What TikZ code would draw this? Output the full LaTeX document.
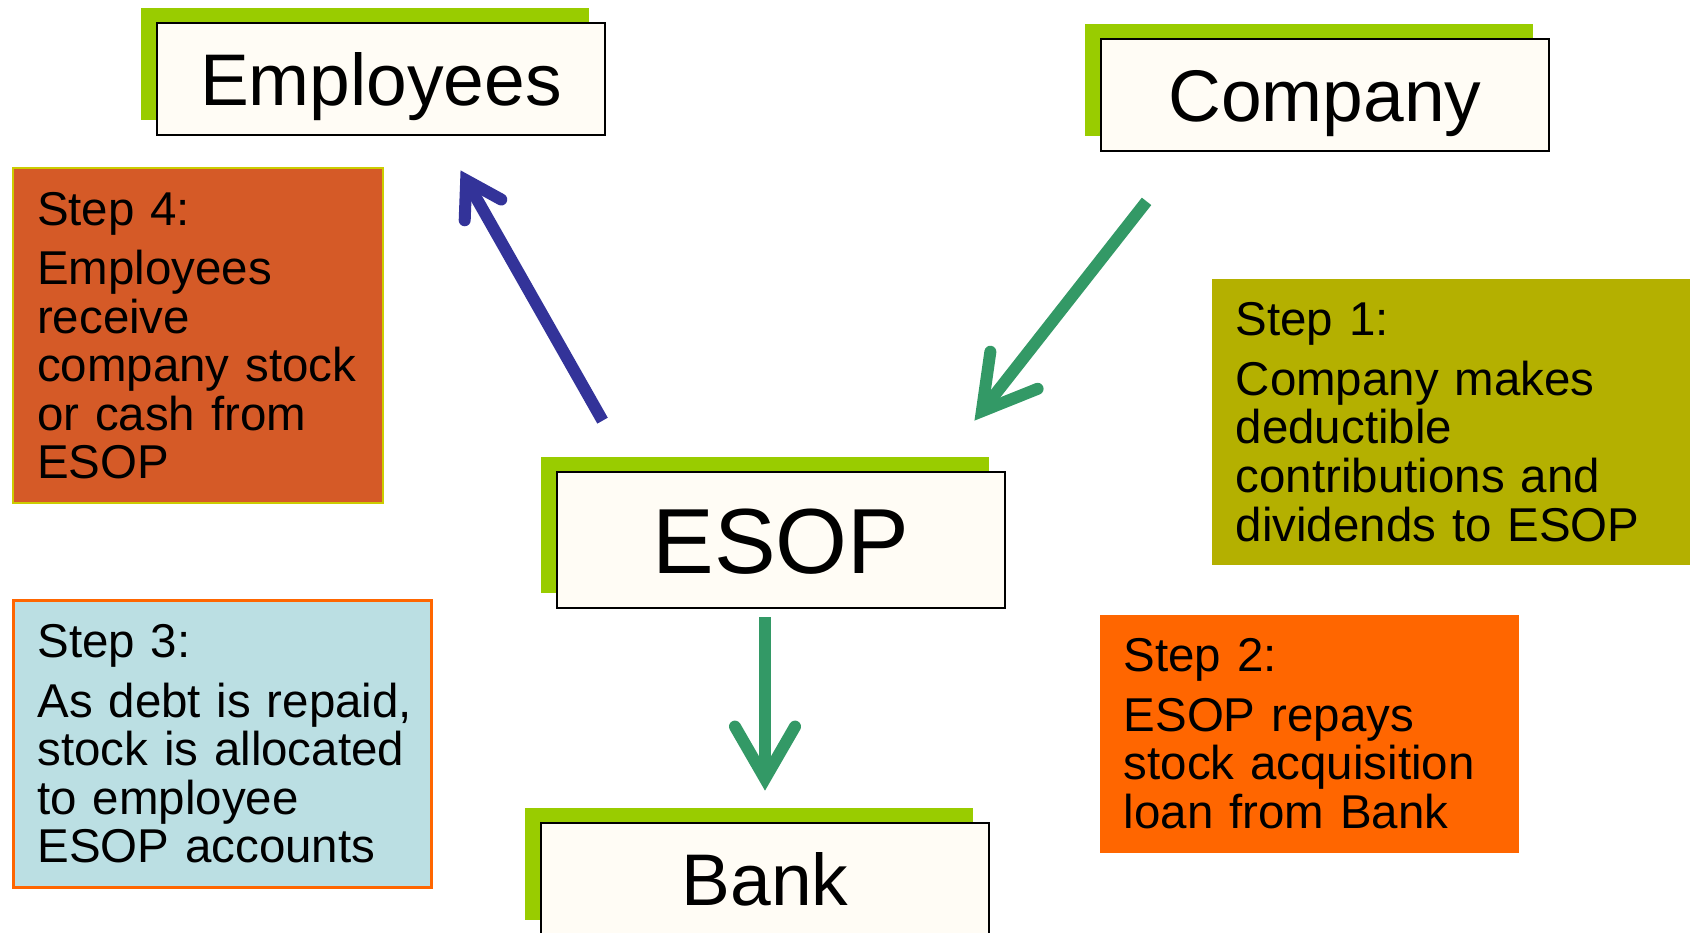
\documentclass[tikz,border=0pt]{standalone}
\usepackage{fontspec}
\setmainfont{Liberation Sans}
\usetikzlibrary{arrows.meta, positioning, calc, shadows}

\definecolor{leaf}{HTML}{99CC00}
\definecolor{paper}{HTML}{FFFCF5}
\definecolor{rust}{HTML}{D55A27}
\definecolor{olivebox}{HTML}{B4B000}
\definecolor{tangerine}{HTML}{FF6600}
\definecolor{icebox}{HTML}{BBDFE3}
\definecolor{lemon}{HTML}{CCCC00}
\definecolor{inkblue}{HTML}{333399}
\definecolor{jade}{HTML}{339966}

\begin{document}
\begin{tikzpicture}[
    x=0.01cm, y=-0.01cm,
    ent/.style={draw, line width=0.75pt, fill=paper, minimum width=4.48cm, minimum height=1.12cm,
        general shadow={fill=leaf, shadow xshift=-0.16cm, shadow yshift=0.15cm},
        font=\fontsize{20.8pt}{24pt}\selectfont, text height=14.9pt, text depth=0pt},
    stepbox/.style={anchor=north west, inner xsep=0.24cm, inner ysep=0.24cm, align=left,
        font=\fontsize{13.5pt}{13.8pt}\selectfont},
    flow/.style={line width=0.12cm, -{Straight Barb[length=0.52cm, width=0.6cm, line cap=round]}},
]
\path[use as bounding box, clip] (0,0) rectangle (1690,932);

% ── Parties ──
\node[ent] (emp) at (381,79) {Employees};
\node[ent] (comp) at (1325,95) {Company};
\node[ent, minimum height=1.36cm, font=\fontsize{26.3pt}{30pt}\selectfont, text height=18.8pt] (esop) at (781,540) {ESOP};
\node[ent] (bank) at (765,879) {Bank};

% ── Steps ──
\node[stepbox, fill=olivebox, text width=4.41cm] (s1) at (1211,278)
    {Step 1:\\[0.11cm] Company makes\\ deductible\\ contributions and\\ dividends to ESOP};
\node[stepbox, fill=tangerine, text width=3.71cm] (s2) at (1099,614)
    {Step 2:\\[0.11cm] ESOP repays\\ stock acquisition\\ loan from Bank};
\node[stepbox, fill=icebox, draw=tangerine, line width=0.8pt, text width=3.70cm] (s3) at (12,599)
    {Step 3:\\[0.11cm] \mbox{As debt is repaid,}\\ stock is allocated\\ to employee\\ ESOP accounts};
\node[stepbox, fill=rust, draw=lemon, line width=0.6pt, text width=3.22cm] (s4) at (12,167)
    {Step 4:\\[0.11cm] Employees\\ receive\\ company stock\\ or cash from\\ ESOP};

% ── Flows ──
\draw[flow, draw=jade] ($(comp.south west)+(47,49)$) -- ($(esop.north east)+(-32,-50)$);
\draw[flow, draw=jade, shorten <=0.08cm, shorten >=0.31cm] (esop.south -| bank.north) -- (bank.north);
\draw[flow, draw=inkblue, -{Straight Barb[length=0.34cm, width=0.42cm, line cap=round]}]
    ($(esop.north west)+(47,-50)$) -- ($(emp.south west)+(305,34)$);

\end{tikzpicture}
\end{document}
